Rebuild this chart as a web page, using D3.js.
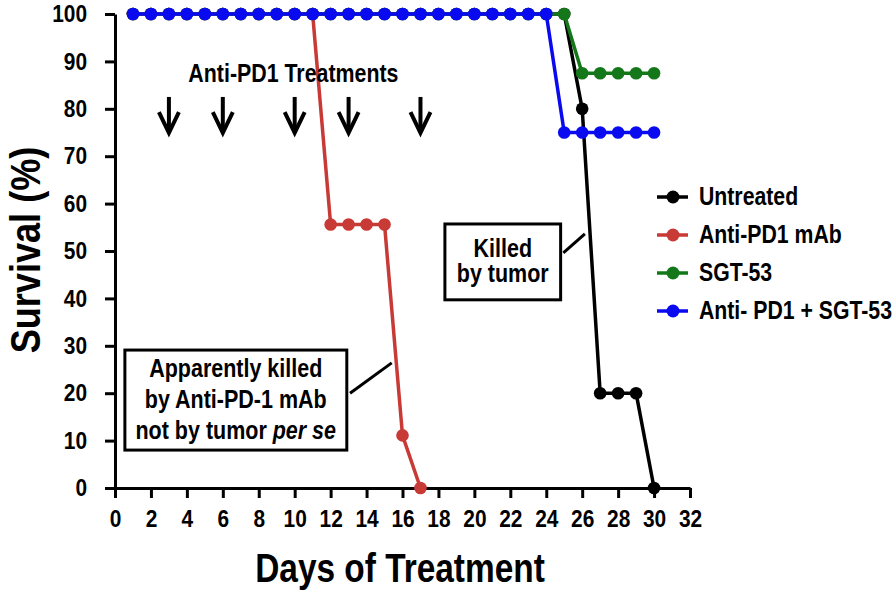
<!DOCTYPE html>
<html><head><meta charset="utf-8">
<script src="https://cdn.jsdelivr.net/npm/d3@7"></script>
<style>
html,body{margin:0;padding:0;background:#fff;}
svg text{font-family:"Liberation Sans Narrow","Arial Narrow","Liberation Sans",Arial,sans-serif;font-weight:bold;fill:#000;}
</style></head><body>
<svg id="chart" width="896" height="594"></svg>
<script>
// ---- data ----
const untreatedDays   = [1,2,3,4,5,6,7,8,9,10,11,12,13,14,15,16,17,18,19,20,21,22,23,24,25,26,27,28,29,30];
const untreatedValues = [100,100,100,100,100,100,100,100,100,100,100,100,100,100,100,100,100,100,100,100,100,100,100,100,100,80,20,20,20,0];
const antiPD1Days     = [1,2,3,4,5,6,7,8,9,10,11,12,13,14,15,16,17];
const antiPD1Values   = [100,100,100,100,100,100,100,100,100,100,100,55.6,55.6,55.6,55.6,11.1,0];
const sgt53Days       = [1,2,3,4,5,6,7,8,9,10,11,12,13,14,15,16,17,18,19,20,21,22,23,24,25,26,27,28,29,30];
const sgt53Values     = [100,100,100,100,100,100,100,100,100,100,100,100,100,100,100,100,100,100,100,100,100,100,100,100,100,87.5,87.5,87.5,87.5,87.5];
const comboDays       = [1,2,3,4,5,6,7,8,9,10,11,12,13,14,15,16,17,18,19,20,21,22,23,24,25,26,27,28,29,30];
const comboValues     = [100,100,100,100,100,100,100,100,100,100,100,100,100,100,100,100,100,100,100,100,100,100,100,100,75,75,75,75,75,75];
const seriesNames     = ["Untreated","Anti-PD1 mAb","SGT-53","Anti- PD1 + SGT-53"];
const seriesColors    = ["#000000","#c83a36","#14781a","#0a0af0"];
const xTicks          = [0,2,4,6,8,10,12,14,16,18,20,22,24,26,28,30,32];
const yTicks          = [0,10,20,30,40,50,60,70,80,90,100];
const treatmentDays   = [3,6,10,13,17];
const xTitle = "Days of Treatment";
const yTitle = "Survival (%)";

// ---- build ----
const svg = d3.select("#chart");
const x = d3.scaleLinear().domain([0,32]).range([115,690]);
const y = d3.scaleLinear().domain([0,100]).range([488,14]);

// horizontally condense text around its anchor x (narrow bold look)
function condense(sel, sx, ax){
  sel.each(function(){
    const t = d3.select(this);
    const a = ax !== undefined ? ax : (+t.attr("x") || 0);
    t.attr("transform", `translate(${a},0) scale(${sx},1) translate(${-a},0)`);
  });
}

const series = [
  {name:seriesNames[0], color:seriesColors[0], pts:untreatedDays.map((d,i)=>({d, v:untreatedValues[i]}))},
  {name:seriesNames[1], color:seriesColors[1], pts:antiPD1Days.map((d,i)=>({d, v:antiPD1Values[i]}))},
  {name:seriesNames[2], color:seriesColors[2], pts:sgt53Days.map((d,i)=>({d, v:sgt53Values[i]}))},
  {name:seriesNames[3], color:seriesColors[3], pts:comboDays.map((d,i)=>({d, v:comboValues[i]}))}
];

// axes
const yAxis = svg.append("g").attr("transform",`translate(${x(0)},0)`)
  .call(d3.axisLeft(y).tickValues(yTicks).tickSize(10).tickSizeOuter(0).tickPadding(18));
const xAxis = svg.append("g").attr("transform",`translate(0,${y(0)})`)
  .call(d3.axisBottom(x).tickValues(xTicks).tickSize(10).tickSizeOuter(0).tickPadding(12));
[yAxis,xAxis].forEach(a=>{
  a.selectAll("path.domain").attr("stroke","#000").attr("stroke-width",3);
  a.selectAll(".tick line").attr("stroke","#000").attr("stroke-width",3);
  a.selectAll(".tick text").style("font-size","24px");
  condense(a.selectAll(".tick text"), 0.87);
});

// titles
const xt = svg.append("text").attr("x",400).attr("y",582).attr("text-anchor","middle")
  .style("font-size","41px").text(xTitle);
condense(xt, 0.815);
svg.append("text").attr("transform","translate(40,250) rotate(-90) scale(0.84,1)").attr("text-anchor","middle")
  .style("font-size","43px").text(yTitle);

// series
const line = d3.line().x(p=>x(p.d)).y(p=>y(p.v));
series.forEach(s=>{
  const g = svg.append("g");
  g.append("path").attr("d",line(s.pts)).attr("fill","none")
    .attr("stroke",s.color).attr("stroke-width",3.5).attr("stroke-linejoin","round");
  g.selectAll("circle").data(s.pts).join("circle")
    .attr("cx",p=>x(p.d)).attr("cy",p=>y(p.v)).attr("r",6.3).attr("fill",s.color);
});

// treatment arrows
const tt = svg.append("text").attr("x",x(9.93)).attr("y",y(85.7)).attr("text-anchor","middle")
  .style("font-size","25px").text("Anti-PD1 Treatments");
condense(tt, 0.855);
const arrows = svg.append("g").attr("stroke","#000").attr("fill","none").attr("stroke-width",4);
treatmentDays.forEach(d=>{
  const cx = x(d);
  arrows.append("line").attr("x1",cx).attr("x2",cx).attr("y1",y(82.5)).attr("y2",y(75.2));
  arrows.append("path").attr("d",`M${cx-10},${y(79.3)} L${cx},${y(74.9)} L${cx+10},${y(79.3)}`)
    .attr("stroke-linejoin","miter");
});

// annotation boxes
function box(x0,x1,yTop,yBot){
  svg.append("rect").attr("x",x(x0)).attr("y",y(yTop)).attr("width",x(x1)-x(x0)).attr("height",y(yBot)-y(yTop))
    .attr("fill","#fff").attr("stroke","#000").attr("stroke-width",3);
}
box(0.55,12.9,29.1,8.0);
const t1 = svg.append("text").attr("text-anchor","middle").style("font-size","25px");
t1.append("tspan").attr("x",x(6.72)).attr("y",y(23.4)).text("Apparently killed");
t1.append("tspan").attr("x",x(6.72)).attr("y",y(16.9)).text("by Anti-PD-1 mAb");
const l3 = t1.append("tspan").attr("x",x(6.72)).attr("y",y(10.4));
l3.append("tspan").text("not by tumor ");
l3.append("tspan").style("font-style","italic").text("per se");
condense(t1, 0.86, x(6.72));
svg.append("line").attr("x1",x(13.08)).attr("y1",y(20.0)).attr("x2",x(15.4)).attr("y2",y(26.4))
  .attr("stroke","#000").attr("stroke-width",3);

box(18.36,24.8,55.7,39.7);
const t2 = svg.append("text").attr("text-anchor","middle").style("font-size","25px");
t2.append("tspan").attr("x",x(21.58)).attr("y",y(48.7)).text("Killed");
t2.append("tspan").attr("x",x(21.58)).attr("y",y(43.4)).text("by tumor");
condense(t2, 0.86, x(21.58));
svg.append("line").attr("x1",x(24.95)).attr("y1",y(49.6)).attr("x2",x(26.15)).attr("y2",y(53.6))
  .attr("stroke","#000").attr("stroke-width",3);

// legend
const leg = svg.append("g").attr("transform","translate(657,197)");
series.forEach((s,i)=>{
  const g = leg.append("g").attr("transform",`translate(0,${i*38})`);
  g.append("line").attr("x1",0).attr("x2",31).attr("stroke",s.color).attr("stroke-width",3.5);
  g.append("circle").attr("cx",16).attr("r",6.5).attr("fill",s.color);
  const lt = g.append("text").attr("x",42).attr("y",8).style("font-size","25px").text(s.name);
  condense(lt, 0.85);
});
</script>
</body></html>
